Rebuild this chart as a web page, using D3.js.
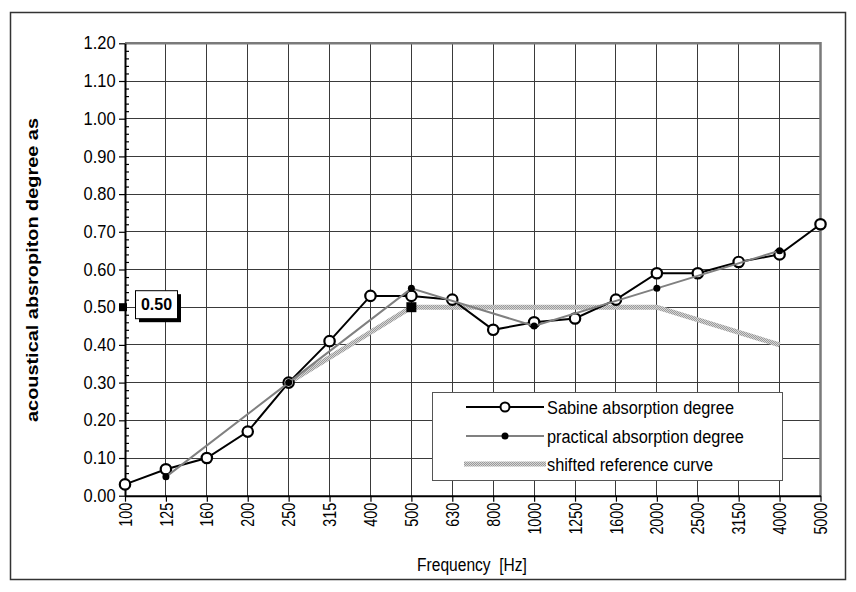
<!DOCTYPE html>
<html lang="en">
<head>
<meta charset="UTF-8">
<title>Absorption degree</title>
<script src="https://cdnjs.cloudflare.com/ajax/libs/d3/7.8.5/d3.min.js"></script>
<style>
    body { margin: 0; background: #fff; }
    svg { display: block; font-family: "Liberation Sans", Arial, sans-serif; }
    .grid line { stroke: #3a3a3a; stroke-width: 1; shape-rendering: crispEdges; }
    .axis path, .axis line { stroke: #000; }
    .axis text { fill: #000; }
</style>
</head>
<body>
<div id="chart"></div>
<script>
// frequency bands (third octaves)
const freqs = ["100", "125", "160", "200", "250", "315", "400", "500", "630", "800",
               "1000", "1250", "1600", "2000", "2500", "3150", "4000", "5000"];
// Sabine absorption degree per third octave
const sabine = [0.03, 0.07, 0.10, 0.17, 0.30, 0.41, 0.53, 0.53, 0.52, 0.44,
                0.46, 0.47, 0.52, 0.59, 0.59, 0.62, 0.64, 0.72];
// practical absorption degree per octave
const practicalFreqs = ["125", "250", "500", "1000", "2000", "4000"];
const practical = [0.05, 0.30, 0.55, 0.45, 0.55, 0.65];
// shifted reference curve
const refFreqs = ["250", "500", "1000", "2000", "4000"];
const refCurve = [0.30, 0.50, 0.50, 0.50, 0.40];
// weighted value
const ratingFreq = "500";
const rating = 0.50;
const yTicks = [0, 0.1, 0.2, 0.3, 0.4, 0.5, 0.6, 0.7, 0.8, 0.9, 1.0, 1.1, 1.2];
const legendNames = ["Sabine absorption degree", "practical absorption degree", "shifted reference curve"];

const W = 856, H = 592;
const pLeft = 125, pRight = 820.5, pTop = 43.3, pBottom = 495.7;
const narrow = 0.82; // squeeze to look like a narrow face

const svg = d3.select("#chart").append("svg")
    .attr("width", W).attr("height", H);

const defs = svg.append("defs");
const pat = defs.append("pattern")
    .attr("id", "checker")
    .attr("patternUnits", "userSpaceOnUse")
    .attr("width", 2).attr("height", 2);
pat.append("rect").attr("width", 2).attr("height", 2).attr("fill", "#d6d6d6");
pat.append("rect").attr("width", 1).attr("height", 1).attr("fill", "#9a9a9a");
pat.append("rect").attr("x", 1).attr("y", 1).attr("width", 1).attr("height", 1).attr("fill", "#9a9a9a");

// outer frame
svg.append("rect")
    .attr("x", 10.5).attr("y", 12.5)
    .attr("width", 835).attr("height", 567)
    .attr("fill", "#fff").attr("stroke", "#333").attr("stroke-width", 1.5);

const x = d3.scalePoint().domain(freqs).range([pLeft, pRight]);
const y = d3.scaleLinear().domain([0, 1.2]).range([pBottom, pTop]);

// grid
const grid = svg.append("g").attr("class", "grid");
grid.selectAll(".h").data(yTicks.slice(1, -1)).join("line")
    .attr("x1", pLeft).attr("x2", pRight)
    .attr("y1", d => y(d)).attr("y2", d => y(d));
grid.selectAll(".v").data(freqs.slice(1, -1)).join("line")
    .attr("x1", d => x(d)).attr("x2", d => x(d))
    .attr("y1", pTop).attr("y2", pBottom);

// top and right frame of plot
svg.append("path")
    .attr("d", `M${pLeft},${y(1.2)}H${pRight}V${pBottom}`)
    .attr("fill", "none").attr("stroke", "#7a7a7a").attr("stroke-width", 2.5);

// axes
const yAxis = svg.append("g").attr("class", "axis")
    .attr("transform", `translate(${pLeft},0)`)
    .call(d3.axisLeft(y).tickValues(yTicks).tickFormat(d3.format(".2f")).tickSize(6).tickSizeOuter(0));
yAxis.select(".domain").attr("stroke-width", 2);
yAxis.selectAll("text").attr("font-size", 17.5).attr("x", -10)
    .attr("transform", `scale(0.94,1)`);
yAxis.selectAll("line").attr("stroke-width", 1.2);

// minor ticks inside
svg.append("g").attr("class", "axis")
    .attr("transform", `translate(${pLeft},0)`)
    .call(d3.axisRight(y).tickValues(d3.range(0, 61).map(i => i * 0.02).filter((d, i) => i % 5 !== 0))
        .tickSize(4).tickFormat(""))
    .call(g => g.select(".domain").remove())
    .selectAll("line").attr("stroke-width", 1.2);

const xAxis = svg.append("g").attr("class", "axis")
    .attr("transform", `translate(0,${pBottom})`)
    .call(d3.axisBottom(x).tickSize(6).tickSizeOuter(0));
xAxis.select(".domain").attr("stroke-width", 2);
xAxis.selectAll("line").attr("stroke-width", 1.2);
xAxis.selectAll("text")
    .attr("font-size", 17.5)
    .attr("transform", `rotate(-90) scale(${narrow},1)`)
    .attr("text-anchor", "end")
    .attr("x", -7 / narrow).attr("y", 0).attr("dy", "0.35em");

// axis titles
svg.append("text")
    .attr("transform", `translate(38,270) rotate(-90)`)
    .attr("text-anchor", "middle")
    .attr("font-size", 17).attr("font-weight", "bold")
    .attr("textLength", 304).attr("lengthAdjust", "spacingAndGlyphs")
    .text("acoustical absropiton degree as");
svg.append("text")
    .attr("transform", `translate(472,571) scale(${narrow},1)`)
    .attr("text-anchor", "middle")
    .attr("font-size", 19)
    .attr("xml:space", "preserve")
    .text("Frequency  [Hz]");

// shifted reference curve
const line = d3.line().x(d => x(d[0])).y(d => y(d[1]));
svg.append("path")
    .datum(d3.zip(refFreqs, refCurve))
    .attr("d", line)
    .attr("fill", "none").attr("stroke", "url(#checker)").attr("stroke-width", 5);

// Sabine
svg.append("path")
    .datum(d3.zip(freqs, sabine))
    .attr("d", line)
    .attr("fill", "none").attr("stroke", "#000").attr("stroke-width", 2);
svg.selectAll(".sab").data(d3.zip(freqs, sabine)).join("circle")
    .attr("cx", d => x(d[0])).attr("cy", d => y(d[1])).attr("r", 5.2)
    .attr("fill", "#fff").attr("stroke", "#000").attr("stroke-width", 2.2);

// practical
svg.append("path")
    .datum(d3.zip(practicalFreqs, practical))
    .attr("d", line)
    .attr("fill", "none").attr("stroke", "#808080").attr("stroke-width", 2);
svg.selectAll(".prac").data(d3.zip(practicalFreqs, practical)).join("circle")
    .attr("cx", d => x(d[0])).attr("cy", d => y(d[1])).attr("r", 3.5)
    .attr("fill", "#000");

// rating marker
svg.append("rect")
    .attr("x", x(ratingFreq) - 5).attr("y", y(rating) - 5)
    .attr("width", 10).attr("height", 10).attr("fill", "#000");
svg.append("rect")
    .attr("x", pLeft - 6).attr("y", y(rating) - 4)
    .attr("width", 8).attr("height", 8).attr("fill", "#000");
svg.append("rect")
    .attr("x", 139).attr("y", y(rating) - 13)
    .attr("width", 42).attr("height", 28).attr("fill", "#000");
svg.append("rect")
    .attr("x", 135.5).attr("y", y(rating) - 16.5)
    .attr("width", 42).attr("height", 28)
    .attr("fill", "#fff").attr("stroke", "#000").attr("stroke-width", 1);
svg.append("text")
    .attr("x", 156.5).attr("y", y(rating) - 2.5)
    .attr("text-anchor", "middle").attr("dy", "0.35em")
    .attr("font-size", 16).attr("font-weight", "bold")
    .text(d3.format(".2f")(rating));

// legend
const lg = svg.append("g");
lg.append("rect")
    .attr("x", 432.5).attr("y", 392.5).attr("width", 350).attr("height", 88)
    .attr("fill", "#fff").attr("stroke", "#555").attr("stroke-width", 1);
const rows = [407, 436, 464];
lg.append("line").attr("x1", 466).attr("x2", 544).attr("y1", rows[0]).attr("y2", rows[0])
    .attr("stroke", "#000").attr("stroke-width", 2);
lg.append("circle").attr("cx", 505).attr("cy", rows[0]).attr("r", 4.5)
    .attr("fill", "#fff").attr("stroke", "#000").attr("stroke-width", 2);
lg.append("line").attr("x1", 466).attr("x2", 544).attr("y1", rows[1]).attr("y2", rows[1])
    .attr("stroke", "#808080").attr("stroke-width", 2);
lg.append("circle").attr("cx", 505).attr("cy", rows[1]).attr("r", 3.5).attr("fill", "#000");
lg.append("line").attr("x1", 464).attr("x2", 546).attr("y1", rows[2]).attr("y2", rows[2])
    .attr("stroke", "url(#checker)").attr("stroke-width", 5);
lg.selectAll(".lt").data(legendNames).join("text")
    .attr("transform", (d, i) => `translate(547,${rows[i]}) scale(0.86,1)`)
    .attr("dy", "0.35em").attr("font-size", 19)
    .text(d => d);
</script>
</body>
</html>
